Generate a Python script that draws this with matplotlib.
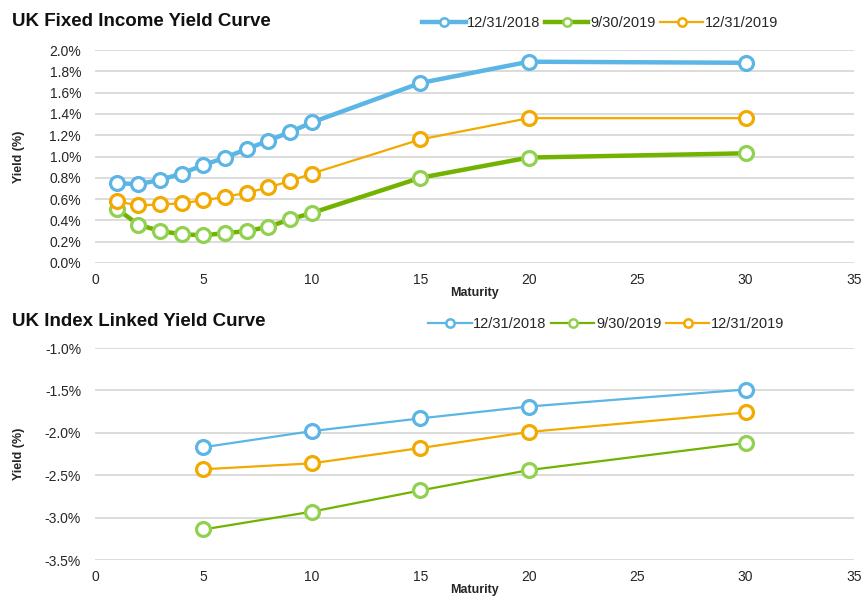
import matplotlib
matplotlib.use("Agg")
import matplotlib.pyplot as plt
from matplotlib.ticker import FuncFormatter

plt.rcParams['font.family'] = ['Liberation Sans', 'DejaVu Sans']

# Nominal gilt curve (maturity in years, yield in %)
fixed_maturity = [1, 2, 3, 4, 5, 6, 7, 8, 9, 10, 15, 20, 30]
fixed_2018_12 = [0.75, 0.74, 0.78, 0.84, 0.92, 0.99, 1.07, 1.15, 1.23, 1.32, 1.69, 1.89, 1.88]
fixed_2019_09 = [0.51, 0.36, 0.30, 0.27, 0.26, 0.28, 0.30, 0.34, 0.41, 0.47, 0.80, 0.99, 1.03]
fixed_2019_12 = [0.58, 0.54, 0.55, 0.56, 0.59, 0.62, 0.66, 0.71, 0.77, 0.84, 1.16, 1.36, 1.36]

# Index-linked gilt curve
linked_maturity = [5, 10, 15, 20, 30]
linked_2018_12 = [-2.17, -1.98, -1.83, -1.69, -1.49]
linked_2019_09 = [-3.14, -2.93, -2.68, -2.44, -2.12]
linked_2019_12 = [-2.43, -2.36, -2.18, -1.99, -1.76]

series_labels = ['12/31/2018', '9/30/2019', '12/31/2019']
x_ticks = [0, 5, 10, 15, 20, 25, 30, 35]

BLUE = '#5BB5E5'
GREEN_LINE = '#72B300'
GREEN_MARK = '#92D050'
ORANGE = '#F2A900'
GRID = '#D9D9D9'
TEXT = '#262626'

W, H = 866, 599
fig = plt.figure(figsize=(W / 100, H / 100), dpi=100)


def px_axes(left, top, right, bottom):
    return fig.add_axes([left / W, 1 - bottom / H, (right - left) / W, (bottom - top) / H])


def style(ax, ylim, yticks, fmt):
    ax.set_xlim(0, 35)
    ax.set_ylim(*ylim)
    ax.set_xticks(x_ticks)
    ax.set_yticks(yticks)
    ax.yaxis.set_major_formatter(FuncFormatter(fmt))
    for s in ax.spines.values():
        s.set_visible(False)
    ax.grid(axis='y', color=GRID, linewidth=1.3)
    ax.set_axisbelow(True)
    ax.tick_params(length=0, labelsize=10, colors=TEXT)
    ax.tick_params(axis='x', pad=7)
    ax.tick_params(axis='y', pad=10)
    ax.set_ylabel('Yield (%)', fontsize=9, fontweight='bold', color=TEXT)
    ax.yaxis.set_label_coords(-70 / 759, 0.5)
    ax.set_xlabel('Maturity', fontsize=9, fontweight='bold', color=TEXT, labelpad=0)


def draw(ax, x, series, widths, leg_xy):
    colors = [(BLUE, BLUE), (GREEN_LINE, GREEN_MARK), (ORANGE, ORANGE)]
    handles = []
    for ys, (lc, mc), lw, lab in zip(series, colors, widths, series_labels):
        ax.plot(x, ys, color=lc, linewidth=lw, marker='o', markersize=10,
                markerfacecolor='white', markeredgecolor=mc, markeredgewidth=2.3,
                solid_capstyle='butt', zorder=3)
        h, = ax.plot([], [], color=lc, linewidth=lw, marker='o', markersize=6,
                     markerfacecolor='white', markeredgecolor=mc,
                     markeredgewidth=1.8, label=lab)
        handles.append(h)
    fig.legend(handles=handles, loc='center', bbox_to_anchor=leg_xy, ncol=3,
               frameon=False, fontsize=10.5, handlelength=3.0, handletextpad=0.1,
               columnspacing=0.3, labelcolor=TEXT)


ax1 = px_axes(95, 50, 854, 263)
style(ax1, (0, 2.0), [i * 0.2 for i in range(11)], lambda v, p: f'{v:.1f}%')
draw(ax1, fixed_maturity, [fixed_2018_12, fixed_2019_09, fixed_2019_12],
     [3.2, 3.2, 1.6], (600 / W, 1 - 23 / H))
fig.text(12 / W, 1 - 22 / H, 'UK Fixed Income Yield Curve', fontsize=13.5,
         fontweight='bold', color='#111111', va='center', ha='left')

ax2 = px_axes(95, 348, 854, 560)
style(ax2, (-3.5, -1.0), [-3.5, -3.0, -2.5, -2.0, -1.5, -1.0], lambda v, p: f'{v:.1f}%')
draw(ax2, linked_maturity, [linked_2018_12, linked_2019_09, linked_2019_12],
     [1.6, 1.6, 1.6], (606 / W, 1 - 324 / H))
fig.text(12 / W, 1 - 321 / H, 'UK Index Linked Yield Curve', fontsize=13.5,
         fontweight='bold', color='#111111', va='center', ha='left')

fig.savefig('out.png', dpi=100, facecolor='white')
